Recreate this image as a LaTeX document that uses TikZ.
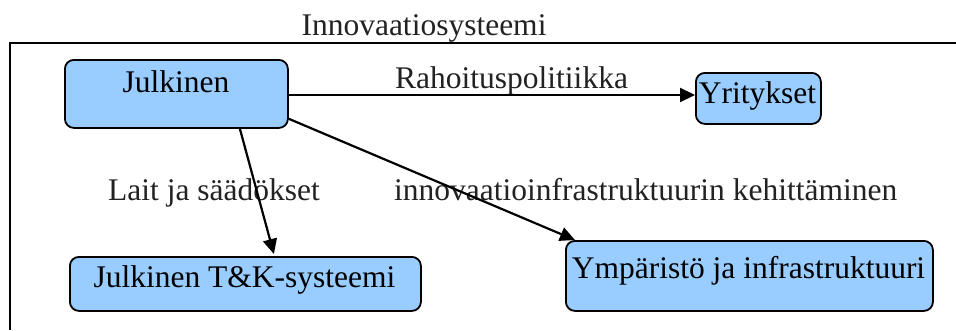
\documentclass[tikz,border=0pt]{standalone}
\usepackage{fontspec}
\setmainfont{Liberation Serif}
\usetikzlibrary{arrows.meta,calc}
\definecolor{boxblue}{HTML}{99CCFF}
\definecolor{labelgray}{HTML}{222222}
\begin{document}
\begin{tikzpicture}[x=1pt,y=-1pt,
  every node/.style={font=\fontsize{31.5}{36}\selectfont},
  blbox/.style={draw=black,line width=1.8pt,fill=boxblue,rounded corners=9pt,inner sep=0pt,anchor=north west},
  txt/.style={inner sep=0pt,anchor=base,text=black},
  lbl/.style={inner sep=0pt,anchor=base west,text=labelgray},
  conn/.style={line width=2.2pt,-{Triangle[length=15pt,width=14pt]}}]
\useasboundingbox (0,0) rectangle (956,330);
% frame
\draw[line width=2.2pt] (10,330) -- (10,43) -- (956,43);
\node[inner sep=0pt,anchor=base,text=labelgray] (title) at (424,35) {Innovaatiosysteemi};
% boxes
\node[blbox,minimum width=223pt,minimum height=68pt] (jul) at (64,59) {};
\node[txt] (julT) at (176,92) {Julkinen};
\node[blbox,minimum width=125pt,minimum height=51pt] (yri) at (695,72) {};
\node[txt] (yriT) at (757.5,103) {Yritykset};
\node[blbox,minimum width=351pt,minimum height=54pt] (tk) at (69,256) {};
\node[txt] (tkT) at (244.5,287) {Julkinen T\&K-systeemi};
\node[blbox,minimum width=367pt,minimum height=70pt] (ymp) at (565,240) {};
\node[txt] (ympT) at (748.5,278) {Ympäristö ja infrastruktuuri};
% labels
\node[lbl] (l1) at (395,88) {Rahoituspolitiikka};
\node[lbl] (l2) at (108,200) {Lait ja säädökset};
\node[lbl] (l3) at (394,200) {innovaatioinfrastruktuurin kehittäminen};
% connectors
\draw[conn] ($(jul.north east)+(0,36)$) -- ($(yri.north west)+(0,23)$);
\draw[conn] ($(jul.south east)+(0,-10)$) -- ($(ymp.north west)+(10,0)$);
\draw[conn] ($(jul.south)+(63.5,0)$) -- ($(tk.north)+(28.5,-2)$);
\end{tikzpicture}
\end{document}
